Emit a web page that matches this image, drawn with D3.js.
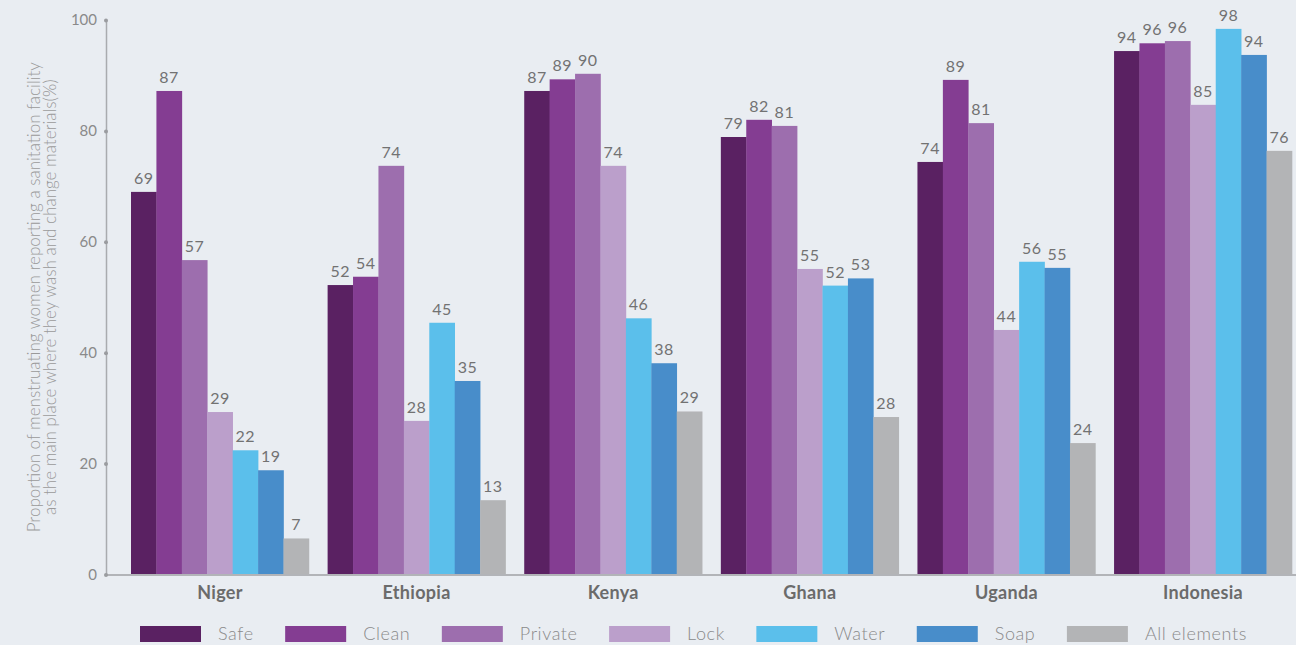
<!DOCTYPE html>
<html>
<head>
<meta charset="utf-8">
<script src="https://cdn.jsdelivr.net/npm/d3@7/dist/d3.min.js"></script>
<style>
  html, body { margin: 0; padding: 0; background: #e9edf2; }
  svg { display: block; font-family: Lato, "Open Sans", sans-serif; }
</style>
</head>
<body>
<svg id="chart" width="1296" height="645"></svg>
<script>
// Countries and the facility criteria measured in each
const countries = ["Niger", "Ethiopia", "Kenya", "Ghana", "Uganda", "Indonesia"];
const criteria = ["Safe", "Clean", "Private", "Lock", "Water", "Soap", "All elements"];
const criteriaColors = ["#5a2162", "#843d92", "#9d6eae", "#bb9fcb", "#5bbfeb", "#488dca", "#b3b4b6"];

// Percent of women per criterion, one array per country (order follows `criteria`)
const niger     = [69.0, 87.2, 56.7, 29.3, 22.4, 18.8, 6.5];
const ethiopia  = [52.2, 53.7, 73.7, 27.7, 45.4, 34.9, 13.4];
const kenya     = [87.2, 89.3, 90.3, 73.7, 46.2, 38.1, 29.4];
const ghana     = [78.9, 82.0, 80.9, 55.1, 52.1, 53.4, 28.4];
const uganda    = [74.4, 89.2, 81.4, 44.1, 56.4, 55.3, 23.7];
const indonesia = [94.4, 95.8, 96.2, 84.7, 98.4, 93.7, 76.4];
const seriesByCountry = [niger, ethiopia, kenya, ghana, uganda, indonesia];

const yTicks = [0, 20, 40, 60, 80, 100];
const yTitle = [
  "Proportion of menstruating women reporting a sanitation facility",
  "as the main place where they wash and change materials(%)"
];

const svg = d3.select("#chart");
const W = 1296, H = 645;
const axisX = 106, plotTop = 20, plotBottom = 574.5;

const x0 = d3.scaleBand()
  .domain(countries)
  .range([131, 1292])
  .paddingInner(0.095)
  .paddingOuter(0);

const x1 = d3.scaleBand()
  .domain(criteria)
  .range([0, x0.bandwidth()])
  .padding(0);

const y = d3.scaleLinear().domain([0, 100]).range([plotBottom, plotTop]);
const color = d3.scaleOrdinal().domain(criteria).range(criteriaColors);

// Bars
const groups = svg.append("g").selectAll("g")
  .data(countries.map((c, i) => ({ country: c, values: seriesByCountry[i] })))
  .join("g")
  .attr("transform", d => `translate(${x0(d.country)},0)`);

groups.selectAll("rect")
  .data(d => criteria.map((k, j) => ({ key: k, value: d.values[j] })))
  .join("rect")
  .attr("x", d => x1(d.key))
  .attr("y", d => y(d.value))
  .attr("width", x1.bandwidth() + 0.3)
  .attr("height", d => y(0) - y(d.value))
  .attr("fill", d => color(d.key));

// Value labels above each bar
groups.selectAll("text")
  .data(d => criteria.map((k, j) => ({ key: k, value: d.values[j] })))
  .join("text")
  .attr("x", d => x1(d.key) + x1.bandwidth() / 2)
  .attr("y", d => y(d.value) - 8)
  .attr("text-anchor", "middle")
  .attr("font-size", 16)
  .attr("letter-spacing", 0.5)
  .attr("fill", "#727272")
  .text(d => d3.format(".0f")(d.value));

// X axis baseline and country names
svg.append("line")
  .attr("x1", axisX).attr("x2", W)
  .attr("y1", y(0) + 0.5).attr("y2", y(0) + 0.5)
  .attr("stroke", "#b2b4b8").attr("stroke-width", 2);

const xAxis = svg.append("g")
  .attr("transform", `translate(0,${y(0)})`)
  .call(d3.axisBottom(x0).tickSize(0).tickPadding(12));
xAxis.select(".domain").remove();
xAxis.selectAll("text")
  .attr("font-size", 18)
  .attr("font-weight", "bold")
  .attr("letter-spacing", 0.3)
  .attr("fill", "#6b6b6b")
  .attr("font-family", "Lato, sans-serif");

// Y axis: line with dot markers at ticks
const yAxis = svg.append("g")
  .attr("transform", `translate(${axisX},0)`)
  .call(d3.axisLeft(y).tickValues(yTicks).tickSize(0).tickPadding(9));
yAxis.select(".domain")
  .attr("stroke", "#a9abaf").attr("stroke-width", 1.5);
yAxis.selectAll("text")
  .attr("font-size", 15)
  .attr("fill", "#8a8a8a")
  .attr("font-family", "Lato, sans-serif");
yAxis.selectAll(".tick").append("circle")
  .attr("r", 2).attr("fill", "#9a9ca0");

// Y axis title (two lines, rotated)
const title = svg.append("text")
  .attr("transform", `translate(40,${(plotTop + plotBottom) / 2}) rotate(-90)`)
  .attr("text-anchor", "middle")
  .attr("font-size", 17)
  .attr("font-weight", 300)
  .attr("fill", "#9a9a9a");
title.selectAll("tspan")
  .data(yTitle)
  .join("tspan")
  .attr("x", 0)
  .attr("dy", (d, i) => i === 0 ? 0 : 15.5)
  .text(d => d);

// Legend along the bottom
const legend = svg.append("g").attr("transform", "translate(140,626)");
let lx = 0;
criteria.forEach((k, i) => {
  const item = legend.append("g").attr("transform", `translate(${lx},0)`);
  item.append("rect")
    .attr("width", 61).attr("height", 16)
    .attr("fill", criteriaColors[i]);
  const t = item.append("text")
    .attr("x", 78).attr("y", 14)
    .attr("font-size", 18)
    .attr("font-weight", 300)
    .attr("letter-spacing", 0.6)
    .attr("fill", "#8a8a8a")
    .text(k);
  lx += 78 + t.node().getComputedTextLength() + 31.5;
});
</script>
</body>
</html>
